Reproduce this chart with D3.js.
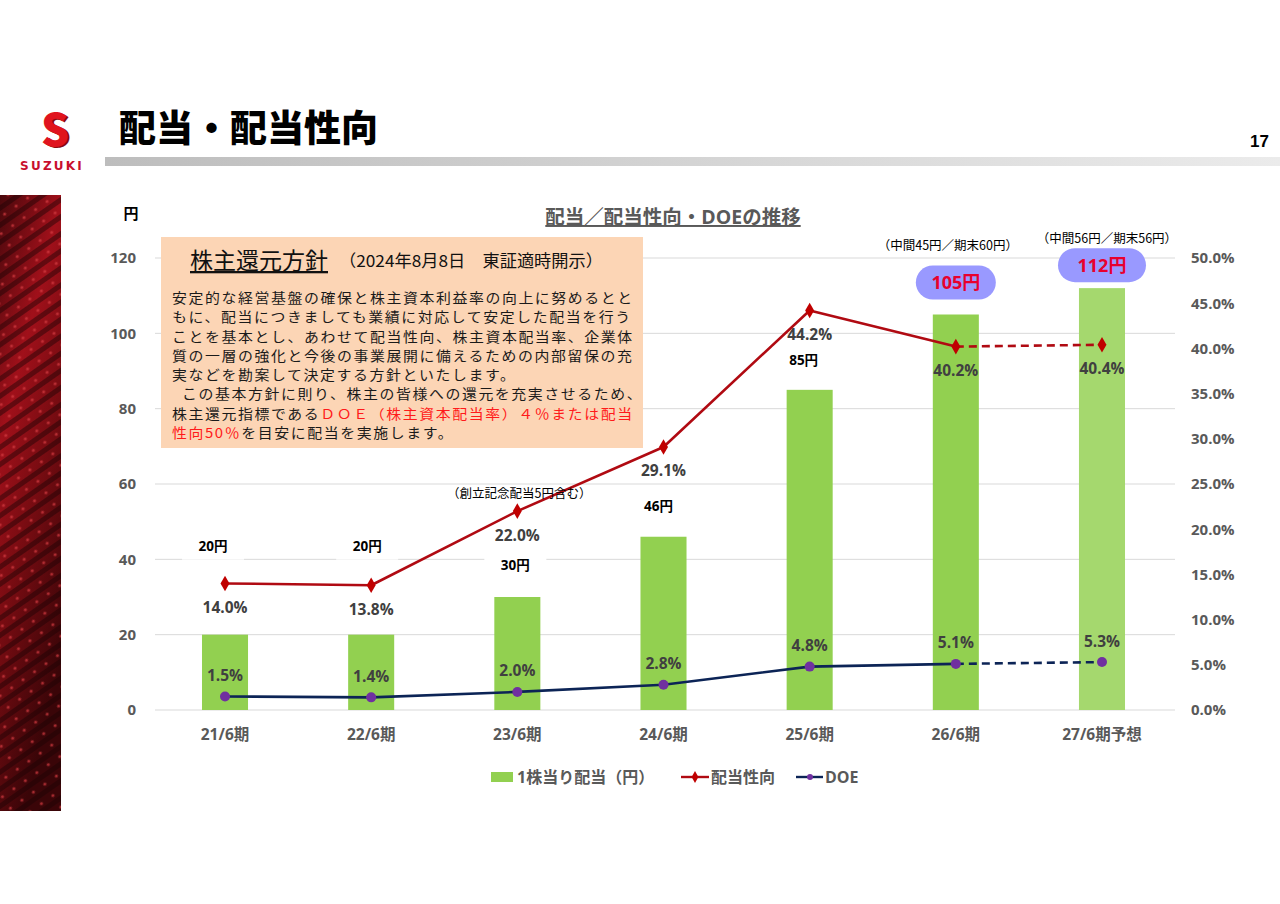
<!DOCTYPE html>
<html><head><meta charset="utf-8">
<script src="https://cdn.jsdelivr.net/npm/d3@7"></script>
<style>
html,body{margin:0;padding:0;background:#fff;}
svg{display:block;}
.policy{font-family:'Noto Sans CJK JP','Noto Sans',sans-serif;font-size:13.3px;letter-spacing:1.43px;line-height:19.3px;color:#1a1a1a;white-space:nowrap;margin:0;padding:0;transform:scaleX(1.12);transform-origin:0 0;}
.policy .red{color:#ff1a1a;}
</style></head>
<body>
<svg id="c" width="1280" height="904"></svg>
<script>
// ---- data ----
const categories = ["21/6期","22/6期","23/6期","24/6期","25/6期","26/6期","27/6期予想"];
const dividends = [20, 20, 30, 46, 85, 105, 112];
const payoutRatio = [14.0, 13.8, 22.0, 29.1, 44.2, 40.2, 40.4];
const doe = [1.5, 1.4, 2.0, 2.8, 4.8, 5.1, 5.3];
const leftTicks = [0, 20, 40, 60, 80, 100, 120];
const rightTicks = [0, 5, 10, 15, 20, 25, 30, 35, 40, 45, 50];
const forecastIndex = 6;
const notes = ["", "", "（創立記念配当5円含む）", "", "", "（中間45円／期末60円）", "（中間56円／期末56円）"];
const policyTitle = "株主還元方針";
const policySub = "（2024年8月8日　東証適時開示）";
const policyLines = [
  [["安定的な経営基盤の確保と株主資本利益率の向上に努めるとと", 0]],
  [["もに、配当につきましても業績に対応して安定した配当を行う", 0]],
  [["ことを基本とし、あわせて配当性向、株主資本配当率、企業体", 0]],
  [["質の一層の強化と今後の事業展開に備えるための内部留保の充", 0]],
  [["実などを勘案して決定する方針といたします。", 0]],
  [["この基本方針に則り、株主の皆様への還元を充実させるため、", 0]],
  [["株主還元指標である", 0], ["ＤＯＥ（株主資本配当率）４％または配当", 1]],
  [["性向50％", 1], ["を目安に配当を実施します。", 0]]
];

// ---- setup ----
const svg = d3.select("#c");
const JP = "'Noto Sans CJK JP','Noto Sans',sans-serif";
const NUM = "'Open Sans','Noto Sans CJK JP',sans-serif";
const defs = svg.append("defs");

// left decorative strip
const sg = defs.append("linearGradient").attr("id","strip").attr("x1",0).attr("y1",0).attr("x2",0.4).attr("y2",1);
sg.append("stop").attr("offset","0%").attr("stop-color","#4a080c");
sg.append("stop").attr("offset","35%").attr("stop-color","#a0101a");
sg.append("stop").attr("offset","60%").attr("stop-color","#7a0c12");
sg.append("stop").attr("offset","100%").attr("stop-color","#3a0508");
const pat = defs.append("pattern").attr("id","stripPat").attr("width",14).attr("height",14)
  .attr("patternUnits","userSpaceOnUse").attr("patternTransform","rotate(-35)");
pat.append("rect").attr("width",14).attr("height",5).attr("fill","#1a0204").attr("opacity",0.45);
pat.append("circle").attr("cx",7).attr("cy",10).attr("r",1.6).attr("fill","#d43a40").attr("opacity",0.7);
svg.append("rect").attr("x",0).attr("y",195).attr("width",61).attr("height",616).attr("fill","url(#strip)");
svg.append("rect").attr("x",0).attr("y",195).attr("width",61).attr("height",616).attr("fill","url(#stripPat)");

// logo
svg.append("text").attr("x",55).attr("y",146).attr("text-anchor","middle")
  .attr("font-family",JP).attr("font-weight",900).attr("font-size",44)
  .attr("fill","#8a0a10").attr("transform","translate(2,1)").text("S");
svg.append("text").attr("x",55).attr("y",146).attr("text-anchor","middle")
  .attr("font-family",JP).attr("font-weight",900).attr("font-size",44)
  .attr("fill","#e0141e").text("S");
svg.append("text").attr("x",52).attr("y",170).attr("text-anchor","middle")
  .attr("font-family","'DejaVu Sans',sans-serif").attr("font-weight",700).attr("font-size",12)
  .attr("letter-spacing",2.2).attr("fill","#c8102e").text("SUZUKI");

// header
svg.append("text").attr("x",119).attr("y",142)
  .attr("font-family",JP).attr("font-weight",900).attr("font-size",37).attr("fill","#000").text("配当・配当性向");
const hg = defs.append("linearGradient").attr("id","hbar");
hg.append("stop").attr("offset","0%").attr("stop-color","#bdbdbd");
hg.append("stop").attr("offset","100%").attr("stop-color","#ebebeb");
svg.append("rect").attr("x",105).attr("y",157).attr("width",1175).attr("height",9).attr("fill","url(#hbar)");
svg.append("text").attr("x",1269).attr("y",147).attr("text-anchor","end")
  .attr("font-family","'Liberation Sans',Arial,sans-serif").attr("font-weight",700).attr("font-size",17).text("17");

// ---- scales ----
const x = d3.scaleBand().domain(categories).range([152, 1175]).paddingInner(0.685).paddingOuter(0.342);
const yL = d3.scaleLinear().domain([0, 120]).range([710, 258]);
const yR = d3.scaleLinear().domain([0, 50]).range([710, 258]);
const cx = c => x(c) + x.bandwidth() / 2;

// grid
svg.append("g").selectAll("line").data(leftTicks).join("line")
  .attr("x1",155).attr("x2",1175).attr("y1",d=>yL(d)).attr("y2",d=>yL(d))
  .attr("stroke","#d9d9d9").attr("stroke-width",1);

// axes
const axL = svg.append("g").attr("transform","translate(136,0)")
  .call(d3.axisLeft(yL).tickValues(leftTicks).tickSize(0).tickPadding(0));
axL.select(".domain").remove();
axL.selectAll("text").attr("font-family",NUM).attr("font-weight",700).attr("font-size",15).attr("fill","#595959");
const axR = svg.append("g").attr("transform","translate(1191,0)")
  .call(d3.axisRight(yR).tickValues(rightTicks).tickSize(0).tickPadding(0).tickFormat(d=>d.toFixed(1)+"%"));
axR.select(".domain").remove();
axR.selectAll("text").attr("font-family",NUM).attr("font-weight",700).attr("font-size",15).attr("fill","#595959");
const axB = svg.append("g").attr("transform","translate(0,729)")
  .call(d3.axisBottom(x).tickSize(0).tickPadding(0));
axB.select(".domain").remove();
axB.selectAll("text").attr("dy","0.71em").attr("font-family",NUM).attr("font-weight",700).attr("font-size",15.5).attr("fill","#595959");

svg.append("text").attr("x",131).attr("y",219).attr("text-anchor","middle")
  .attr("font-family",JP).attr("font-weight",700).attr("font-size",15).attr("fill","#000").text("円");

// chart title
svg.append("text").attr("x",673).attr("y",224).attr("text-anchor","middle")
  .attr("font-family",NUM).attr("font-weight",700).attr("font-size",19.5).attr("fill","#595959")
  .attr("text-decoration","underline").text("配当／配当性向・DOEの推移");

// bars
svg.append("g").selectAll("rect").data(dividends).join("rect")
  .attr("x",(d,i)=>x(categories[i])).attr("width",x.bandwidth())
  .attr("y",d=>yL(d)).attr("height",d=>yL(0)-yL(d))
  .attr("fill",(d,i)=> i===forecastIndex ? "#a5d86e" : "#92d050");

// lines
function drawLine(vals, color, w) {
  const pts = vals.map((v,i)=>[cx(categories[i]), yR(v)]);
  const solid = pts.slice(0, forecastIndex);
  const dashed = pts.slice(forecastIndex-1);
  const ln = d3.line();
  svg.append("path").attr("d",ln(solid)).attr("fill","none").attr("stroke",color).attr("stroke-width",w).attr("stroke-linejoin","round");
  svg.append("path").attr("d",ln(dashed)).attr("fill","none").attr("stroke",color).attr("stroke-width",w).attr("stroke-dasharray","8,5");
  return pts;
}
const pPts = drawLine(payoutRatio, "#b00a12", 2.6);
const dPts = drawLine(doe, "#0c2456", 2.6);

svg.append("g").selectAll("path").data(pPts).join("path")
  .attr("d", d3.symbol(d3.symbolDiamond, 70))
  .attr("transform",d=>`translate(${d[0]},${d[1]})`).attr("fill","#c00000");
svg.append("g").selectAll("circle").data(dPts).join("circle")
  .attr("cx",d=>d[0]).attr("cy",d=>d[1]).attr("r",5).attr("fill","#7030a0");

// bar value labels
const barLabelOffset = [88, 88, 32, 30, 30];
const barLabelDX = [-12, -4, -2, -5, -6];
dividends.forEach((v,i)=>{
  if (i >= 5) return;
  const lx = cx(categories[i]) + barLabelDX[i], ly = yL(v) - barLabelOffset[i];
  svg.append("rect").attr("x",lx-31).attr("y",ly-13).attr("width",62).attr("height",26).attr("fill","#fff");
  svg.append("text").attr("x",lx).attr("y",ly).attr("dy","0.35em").attr("text-anchor","middle")
    .attr("font-family",NUM).attr("font-weight",700).attr("font-size",13.5).attr("fill","#000").text(v+"円");
});
// pill labels for 26/6 and 27/6
const pillOffset = {5: 32, 6: 23};
const pillW = {5: 80, 6: 88};
[5,6].forEach(i=>{
  const lx = cx(categories[i]), ly = yL(dividends[i]) - pillOffset[i];
  svg.append("rect").attr("x",lx-pillW[i]/2).attr("y",ly-17).attr("width",pillW[i]).attr("height",34)
    .attr("rx",17).attr("fill","#9999ff");
  svg.append("text").attr("x",lx).attr("y",ly).attr("dy","0.36em").attr("text-anchor","middle")
    .attr("font-family",NUM).attr("font-weight",700).attr("font-size",18).attr("fill","#e8002e").text(dividends[i]+"円");
});
// notes
const noteY = {2: yL(dividends[2]) - 103, 5: yL(dividends[5]) - 69, 6: yL(dividends[6]) - 50};
const noteDX = {2: 2, 5: -8, 6: 5};
notes.forEach((t,i)=>{
  if (!t) return;
  svg.append("text").attr("x",cx(categories[i]) + noteDX[i]).attr("y",noteY[i]).attr("dy","0.35em")
    .attr("text-anchor","middle").attr("font-family",JP).attr("font-size",12.5).attr("fill","#000").text(t);
});

// payout labels (below points)
payoutRatio.forEach((v,i)=>{
  svg.append("text").attr("x",cx(categories[i])).attr("y",yR(v)+24).attr("dy","0.35em")
    .attr("text-anchor","middle").attr("font-family",NUM).attr("font-weight",700).attr("font-size",15.5)
    .attr("fill","#404040").text(v.toFixed(1)+"%");
});
// DOE labels (above points)
doe.forEach((v,i)=>{
  svg.append("text").attr("x",cx(categories[i])).attr("y",yR(v)-21).attr("dy","0.35em")
    .attr("text-anchor","middle").attr("font-family",NUM).attr("font-weight",700).attr("font-size",15.5)
    .attr("fill","#404040").text(v.toFixed(1)+"%");
});

// legend
const lg = svg.append("g").attr("transform","translate(0,777)");
lg.append("rect").attr("x",491).attr("y",-5).attr("width",22).attr("height",10).attr("fill","#92d050");
lg.append("text").attr("x",517).attr("y",0).attr("dy","0.35em").attr("font-family",NUM).attr("font-weight",700)
  .attr("font-size",16).attr("fill","#595959").text("1株当り配当（円）");
lg.append("line").attr("x1",681).attr("x2",709).attr("y1",0).attr("y2",0).attr("stroke","#b00a12").attr("stroke-width",2.4);
lg.append("path").attr("d",d3.symbol(d3.symbolDiamond,40)).attr("transform","translate(695,0)").attr("fill","#c00000");
lg.append("text").attr("x",711).attr("y",0).attr("dy","0.35em").attr("font-family",NUM).attr("font-weight",700)
  .attr("font-size",16).attr("fill","#595959").text("配当性向");
lg.append("line").attr("x1",796).attr("x2",823).attr("y1",0).attr("y2",0).attr("stroke","#0c2456").attr("stroke-width",2.4);
lg.append("circle").attr("cx",810).attr("cy",0).attr("r",3).attr("fill","#7030a0");
lg.append("text").attr("x",825).attr("y",0).attr("dy","0.35em").attr("font-family",NUM).attr("font-weight",700)
  .attr("font-size",16).attr("fill","#595959").text("DOE");

// policy text box
const bx = svg.append("g");
bx.append("rect").attr("x",161).attr("y",237).attr("width",482).attr("height",211).attr("fill","#fcd5b5");
bx.append("text").attr("x",190).attr("y",269).attr("font-family",JP).attr("font-size",23).attr("fill","#111")
  .attr("text-decoration","underline").text(policyTitle);
bx.append("text").attr("x",339).attr("y",267).attr("font-family",JP).attr("font-size",16.5).attr("fill","#111")
  .attr("textLength",264).attr("lengthAdjust","spacingAndGlyphs").text(policySub);
const fo = bx.append("foreignObject").attr("x",172).attr("y",288).attr("width",470).attr("height",158);
const div = fo.append("xhtml:div").attr("class","policy");
policyLines.forEach((segs,li)=>{
  if (li > 0) div.append("xhtml:br");
  if (li === 5) div.append("xhtml:span").style("display","inline-block").style("width","9px");
  segs.forEach(([s,red])=>{
    if (red) div.append("xhtml:span").attr("class","red").text(s);
    else div.append("xhtml:span").text(s);
  });
});
</script>
</body></html>
